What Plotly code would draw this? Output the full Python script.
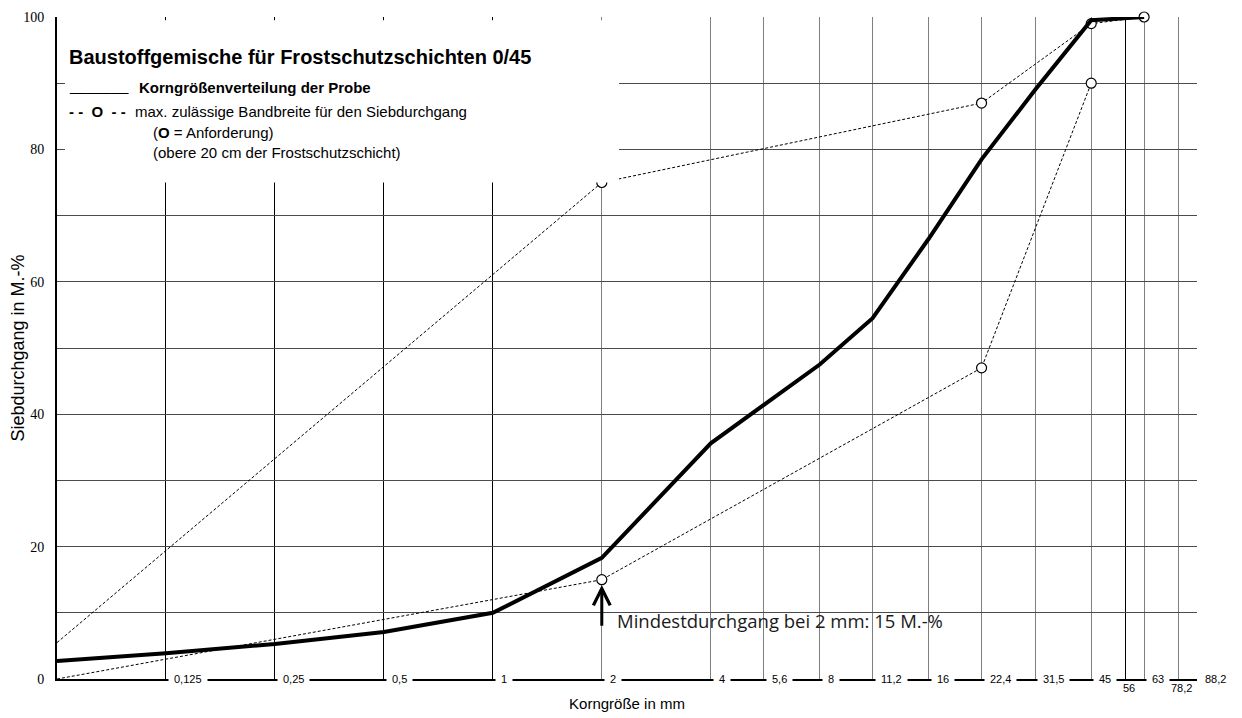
import math
import plotly.graph_objects as go

# ---------------- data ----------------
sieve_sizes = [0.0625, 0.125, 0.25, 0.5, 1, 2, 4, 8, 11.2, 16, 22.4, 31.5, 45, 63]
sample_passing = [2.7, 3.9, 5.3, 7.1, 10.0, 18.3, 35.6, 47.5, 54.5, 66.5, 78.5, 89.0, 99.5, 100]

upper_x = [0.0625, 2, 22.4, 45, 63]
upper_y = [5.5, 75, 87, 99, 100]
lower_x = [0.0625, 2, 22.4, 45]
lower_y = [0, 15, 47, 90]

tick_values = [0.125, 0.25, 0.5, 1, 2, 4, 5.6, 8, 11.2, 16, 22.4, 31.5, 45, 56, 63, 78.2, 88.2]
tick_labels = ["0,125", "0,25", "0,5", "1", "2", "4", "5,6", "8", "11,2", "16",
               "22,4", "31,5", "45", "56", "63", "78,2", "88,2"]
dark_grid_values = [0.125, 0.25, 0.5, 1, 56]
labels_below = ["56", "78,2"]

y_tick_values = list(range(0, 101, 10))
y_tick_labels = ["0", "", "20", "", "40", "", "60", "", "80", "", "100"]

title_text = "Baustoffgemische für Frostschutzschichten 0/45"
legend_sample = "Korngrößenverteilung der Probe"
legend_band = "max. zulässige Bandbreite für den Siebdurchgang"
legend_req = "(<b>O</b> = Anforderung)"
legend_layer = "(obere 20 cm der Frostschutzschicht)"
note_text = "Mindestdurchgang bei 2 mm: 15 M.-%"
x_title = "Korngröße in mm"
y_title = "Siebdurchgang in M.-%"

# ---------------- figure ----------------
SANS = "Liberation Sans, Arial, sans-serif"
SERIF = "Liberation Serif, Times New Roman, serif"

fig = go.Figure()

fig.add_trace(go.Scatter(x=upper_x, y=upper_y, mode="lines",
                         line=dict(color="black", width=1, dash="3px,2px"),
                         cliponaxis=False, hoverinfo="skip", showlegend=False))
fig.add_trace(go.Scatter(x=lower_x, y=lower_y, mode="lines",
                         line=dict(color="black", width=1, dash="3px,2px"),
                         cliponaxis=False, hoverinfo="skip", showlegend=False))
fig.add_trace(go.Scatter(x=upper_x[1:] + lower_x[1:], y=upper_y[1:] + lower_y[1:],
                         mode="markers",
                         marker=dict(symbol="circle", size=10, color="white",
                                     line=dict(color="black", width=1.2)),
                         cliponaxis=False, hoverinfo="skip", showlegend=False))
fig.add_trace(go.Scatter(x=sieve_sizes, y=sample_passing, mode="lines",
                         line=dict(color="black", width=4),
                         cliponaxis=False, hoverinfo="skip", showlegend=False))

light_grid_values = [v for v in tick_values if v not in dark_grid_values]

fig.update_xaxes(
    type="log", automargin=False,
    range=[math.log10(0.0625), math.log10(88.2)],
    tickmode="array", tickvals=dark_grid_values, showticklabels=False, ticks="",
    showgrid=True, gridcolor="black", gridwidth=1,
    minor=dict(tickmode="array", tickvals=light_grid_values, showgrid=True,
               gridcolor="#7f7f7f", gridwidth=1, ticks=""),
    showline=True, linecolor="black", linewidth=2, zeroline=False,
    title=dict(text=x_title, font=dict(family=SANS, size=15, color="black"), standoff=18),
)
fig.update_yaxes(
    automargin=False,
    range=[0, 100],
    tickmode="array", tickvals=y_tick_values, ticktext=y_tick_labels, ticks="",
    ticklabelstandoff=8,
    tickfont=dict(family=SERIF, size=14, color="black"),
    showgrid=True, gridcolor="#4a4a4a", gridwidth=1,
    showline=True, linecolor="black", linewidth=2, zeroline=False,
    title=dict(text=y_title, font=dict(family=SANS, size=18, color="black"), standoff=3),
)

annotations = []
# x tick labels, sitting on the axis line just right of each grid line
for v, lab in zip(tick_values, tick_labels):
    if lab in labels_below:
        annotations.append(dict(x=math.log10(v), y=0, xref="x", yref="y", text=lab,
                                showarrow=False, xanchor="center", yanchor="top",
                                xshift=3, yshift=-1,
                                font=dict(family=SANS, size=11, color="black")))
    else:
        annotations.append(dict(x=math.log10(v), y=0, xref="x", yref="y", text=lab,
                                showarrow=False, xanchor="left", yanchor="middle",
                                xshift=2, bgcolor="white", borderpad=5,
                                font=dict(family=SANS, size=11, color="black")))

# arrow at 2 mm
annotations.append(dict(x=math.log10(2), y=14.2, ax=math.log10(2), ay=7.8,
                        xref="x", yref="y", axref="x", ayref="y", text="",
                        showarrow=True, arrowhead=5, arrowsize=1.1, arrowwidth=3,
                        arrowcolor="black", standoff=0, startstandoff=0))
annotations.append(dict(x=math.log10(2), y=8.9, xref="x", yref="y", text=note_text,
                        showarrow=False, xanchor="left", yanchor="middle", xshift=13,
                        font=dict(family="Open Sans, sans-serif", size=18.5, color="#1a1a1a")))

# legend block (paper coordinates; page pixel -> plot fraction)
def px_x(px):
    return (px - 57) / 1140.0

def px_y(py):
    return (679 - py) / 662.0

legend_items = [
    (67, 57, "<b>" + title_text + "</b>", 20),
    (67, 86, "_______", 15),
    (137, 87, "<b>" + legend_sample + "</b>", 15),
    (67, 112, "<b>- -&nbsp; O &nbsp;- -</b>", 15),
    (133, 112, legend_band, 15),
    (151, 133, legend_req, 15),
    (151, 153, legend_layer, 15),
]
for px, py, txt, sz in legend_items:
    annotations.append(dict(x=px_x(px), y=px_y(py), xref="paper", yref="paper", text=txt,
                            showarrow=False, xanchor="left", yanchor="middle",
                            font=dict(family=SANS, size=sz, color="black")))

# the page body has an 8px margin, so the figure is 8px smaller than the window
fig.update_layout(
    width=1234, height=710,
    margin=dict(l=49, r=45, t=9, b=39),
    paper_bgcolor="white", plot_bgcolor="white",
    showlegend=False,
    annotations=annotations,
    shapes=[dict(type="rect", xref="paper", yref="paper",
                 x0=px_x(65), x1=px_x(619), y0=0.75, y1=0.995,
                 fillcolor="white", line=dict(width=0), layer="above")],
)

fig.write_html("out.html")
